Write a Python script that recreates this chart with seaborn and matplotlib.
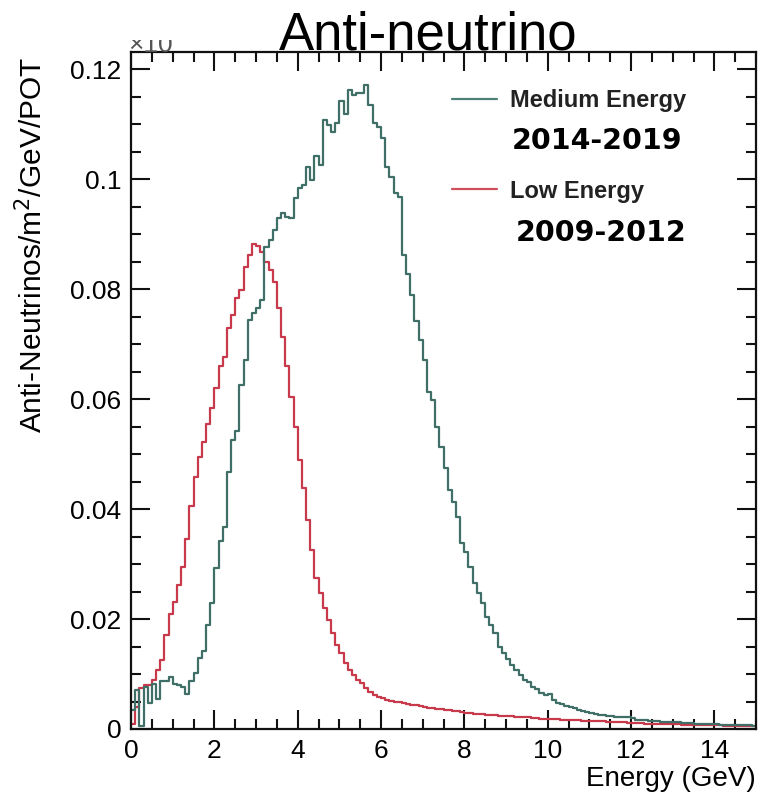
import numpy as np
import pandas as pd
import matplotlib
matplotlib.use('Agg')
import matplotlib.pyplot as plt
from matplotlib.lines import Line2D
from matplotlib.patches import Rectangle
from matplotlib.ticker import MultipleLocator, FormatStrFormatter
import seaborn as sns

# bins of 0.1 GeV from 0 to 15 GeV
bin_centers = np.round(np.arange(0.05, 15.0, 0.1), 3)

# Medium Energy (2014-2019) flux, per bin
flux_me = [
    0.0035, 0.0071, 0.0005, 0.0077, 0.0047, 0.0082, 0.0055, 0.0088, 0.0087, 0.0095,
    0.0082, 0.0080, 0.0076, 0.0064, 0.0088, 0.0102, 0.0130, 0.0141, 0.0190, 0.0229,
    0.0293, 0.0341, 0.0368, 0.0468, 0.0525, 0.0541, 0.0625, 0.0671, 0.0744, 0.0756,
    0.0765, 0.0780, 0.0877, 0.0889, 0.0907, 0.0929, 0.0938, 0.0931, 0.0929, 0.0965,
    0.0984, 0.0990, 0.1022, 0.0998, 0.1041, 0.1025, 0.1107, 0.1098, 0.1086, 0.1101,
    0.1141, 0.1119, 0.1162, 0.1153, 0.1156, 0.1156, 0.1171, 0.1135, 0.1101, 0.1095,
    0.1074, 0.1022, 0.1004, 0.0975, 0.0968, 0.0862, 0.0828, 0.0789, 0.0741, 0.0707,
    0.0671, 0.0613, 0.0598, 0.0550, 0.0513, 0.0474, 0.0435, 0.0413, 0.0386, 0.0338,
    0.0322, 0.0295, 0.0265, 0.0247, 0.0229, 0.0204, 0.0189, 0.0174, 0.0150, 0.0138,
    0.0128, 0.0117, 0.0107, 0.0098, 0.0089, 0.0085, 0.0077, 0.0072, 0.0066, 0.0061,
    0.0063, 0.0052, 0.0048, 0.0045, 0.0042, 0.0040, 0.0038, 0.0035, 0.0033, 0.0031,
    0.0030, 0.0028, 0.0026, 0.0025, 0.0024, 0.0023, 0.0022, 0.0021, 0.0022, 0.0021,
    0.0020, 0.0017, 0.0016, 0.0016, 0.0015, 0.0014, 0.0014, 0.0013, 0.0013, 0.0013,
    0.0012, 0.0012, 0.0011, 0.0011, 0.0011, 0.0010, 0.0010, 0.0010, 0.0009, 0.0009,
    0.0009, 0.0008, 0.0008, 0.0008, 0.0008, 0.0007, 0.0007, 0.0007, 0.0007, 0.0006,
]

# Low Energy (2009-2012) flux
flux_le = [
    0.0010, 0.0040, 0.0075, 0.0080, 0.0080, 0.0089, 0.0107, 0.0125, 0.0171, 0.0210,
    0.0231, 0.0262, 0.0295, 0.0345, 0.0405, 0.0459, 0.0495, 0.0522, 0.0555, 0.0583,
    0.0620, 0.0660, 0.0677, 0.0729, 0.0753, 0.0784, 0.0798, 0.0840, 0.0862, 0.0882,
    0.0878, 0.0868, 0.0850, 0.0835, 0.0813, 0.0765, 0.0713, 0.0660, 0.0604, 0.0550,
    0.0489, 0.0438, 0.0380, 0.0325, 0.0275, 0.0247, 0.0220, 0.0198, 0.0174, 0.0153,
    0.0138, 0.0120, 0.0107, 0.0098, 0.0089, 0.0083, 0.0075, 0.0067, 0.0062, 0.0058,
    0.0056, 0.0053, 0.0051, 0.0050, 0.0049, 0.0047, 0.0046, 0.0044, 0.0043, 0.0042,
    0.0040, 0.0039, 0.0038, 0.0037, 0.0036, 0.0035, 0.0034, 0.0033, 0.0032, 0.0031,
    0.0030, 0.0029, 0.0028, 0.0028, 0.0027, 0.0026, 0.0026, 0.0025, 0.0024, 0.0024,
    0.0023, 0.0023, 0.0022, 0.0022, 0.0021, 0.0021, 0.0020, 0.0020, 0.0019, 0.0019,
    0.0019, 0.0018, 0.0018, 0.0017, 0.0017, 0.0017, 0.0016, 0.0016, 0.0015, 0.0015,
    0.0015, 0.0014, 0.0014, 0.0014, 0.0013, 0.0013, 0.0013, 0.0012, 0.0012, 0.0011,
    0.0011, 0.0011, 0.0011, 0.0010, 0.0010, 0.0010, 0.0010, 0.0009, 0.0009, 0.0009,
    0.0009, 0.0009, 0.0008, 0.0008, 0.0008, 0.0008, 0.0008, 0.0007, 0.0007, 0.0007,
    0.0007, 0.0007, 0.0006, 0.0006, 0.0006, 0.0006, 0.0006, 0.0005, 0.0005, 0.0005,
]

beam_labels = ['Medium Energy', 'Low Energy']
beam_years = ['2014-2019', '2009-2012']
beam_colors = {'Medium Energy': '#3f6f66', 'Low Energy': '#c8394c'}

df = pd.concat([
    pd.DataFrame({'energy': bin_centers, 'flux': flux_me, 'beam': 'Medium Energy'}),
    pd.DataFrame({'energy': bin_centers, 'flux': flux_le, 'beam': 'Low Energy'}),
], ignore_index=True)

sns.set_style('ticks')
plt.rcParams['font.family'] = ['Liberation Sans', 'DejaVu Sans']
plt.rcParams['text.color'] = 'black'
plt.rcParams['axes.labelcolor'] = 'black'
plt.rcParams['xtick.color'] = 'black'
plt.rcParams['ytick.color'] = 'black'

fig = plt.figure(figsize=(7.65, 7.96), dpi=100)
ax = fig.add_axes([131/765, 1-729/796, 625/765, 677/796])

sns.histplot(data=df, x='energy', weights='flux', hue='beam', hue_order=beam_labels,
             binwidth=0.1, binrange=(0, 15), element='step', fill=False,
             palette=beam_colors, linewidth=1.6, legend=False, ax=ax)

ax.set_xlim(0, 15)
ax.set_ylim(0, 0.1231)

# ROOT-like ticks, inward on all sides
ax.xaxis.set_major_locator(MultipleLocator(2))
ax.xaxis.set_minor_locator(MultipleLocator(0.5))
ax.yaxis.set_major_locator(MultipleLocator(0.02))
ax.yaxis.set_minor_locator(MultipleLocator(0.005))
ax.yaxis.set_major_formatter(FormatStrFormatter('%g'))
ax.tick_params(which='both', direction='in', top=True, right=True, width=1.5, color='#111111')
ax.tick_params(which='major', length=14, labelsize=19, pad=7)
ax.tick_params(which='minor', length=7)
for sp in ax.spines.values():
    sp.set_linewidth(1.6)
    sp.set_color('#111111')

ax.set_xlabel('Energy (GeV)', fontsize=20, loc='right')
ax.xaxis.set_label_coords(1.0, -0.054)
ax.set_ylabel('Anti-Neutrinos/m$^2$/GeV/POT', fontsize=21.5, loc='top')
ax.yaxis.set_label_coords(-0.132, 0.992)

# legend
handles = [Line2D([], [], color='#4f8078', lw=1.6), Line2D([], [], color='#d0505e', lw=1.6)]
leg = ax.legend(handles, beam_labels, loc='upper left', bbox_to_anchor=(0.5136, 0.945),
                frameon=False, handlelength=1.9, handletextpad=0.55, labelspacing=2.85,
                borderpad=0, borderaxespad=0, prop={'weight': 'bold', 'size': 17})
for t in leg.get_texts():
    t.set_color('#222222')

ax.text(0.6096, 0.8685, beam_years[0], transform=ax.transAxes, fontsize=20.5,
        fontweight='bold', family='DejaVu Sans', va='center', ha='left', color='black')
ax.text(0.616, 0.7326, beam_years[1], transform=ax.transAxes, fontsize=20.5,
        fontweight='bold', family='DejaVu Sans', va='center', ha='left', color='black')

# clipped exponent marker at the top-left, like the original
fig.text(128/765, 1-52/796, '\u00d710', fontsize=19, color='#555555', va='baseline')
fig.add_artist(Rectangle((120/765, 1-40/796), 80/765, 40/796, transform=fig.transFigure,
                         facecolor='white', edgecolor='none', zorder=5))

fig.text(428/765, 1-50/796, 'Anti-neutrino', fontsize=38, ha='center', va='baseline', zorder=6)

fig.savefig('out.png', dpi=100)
